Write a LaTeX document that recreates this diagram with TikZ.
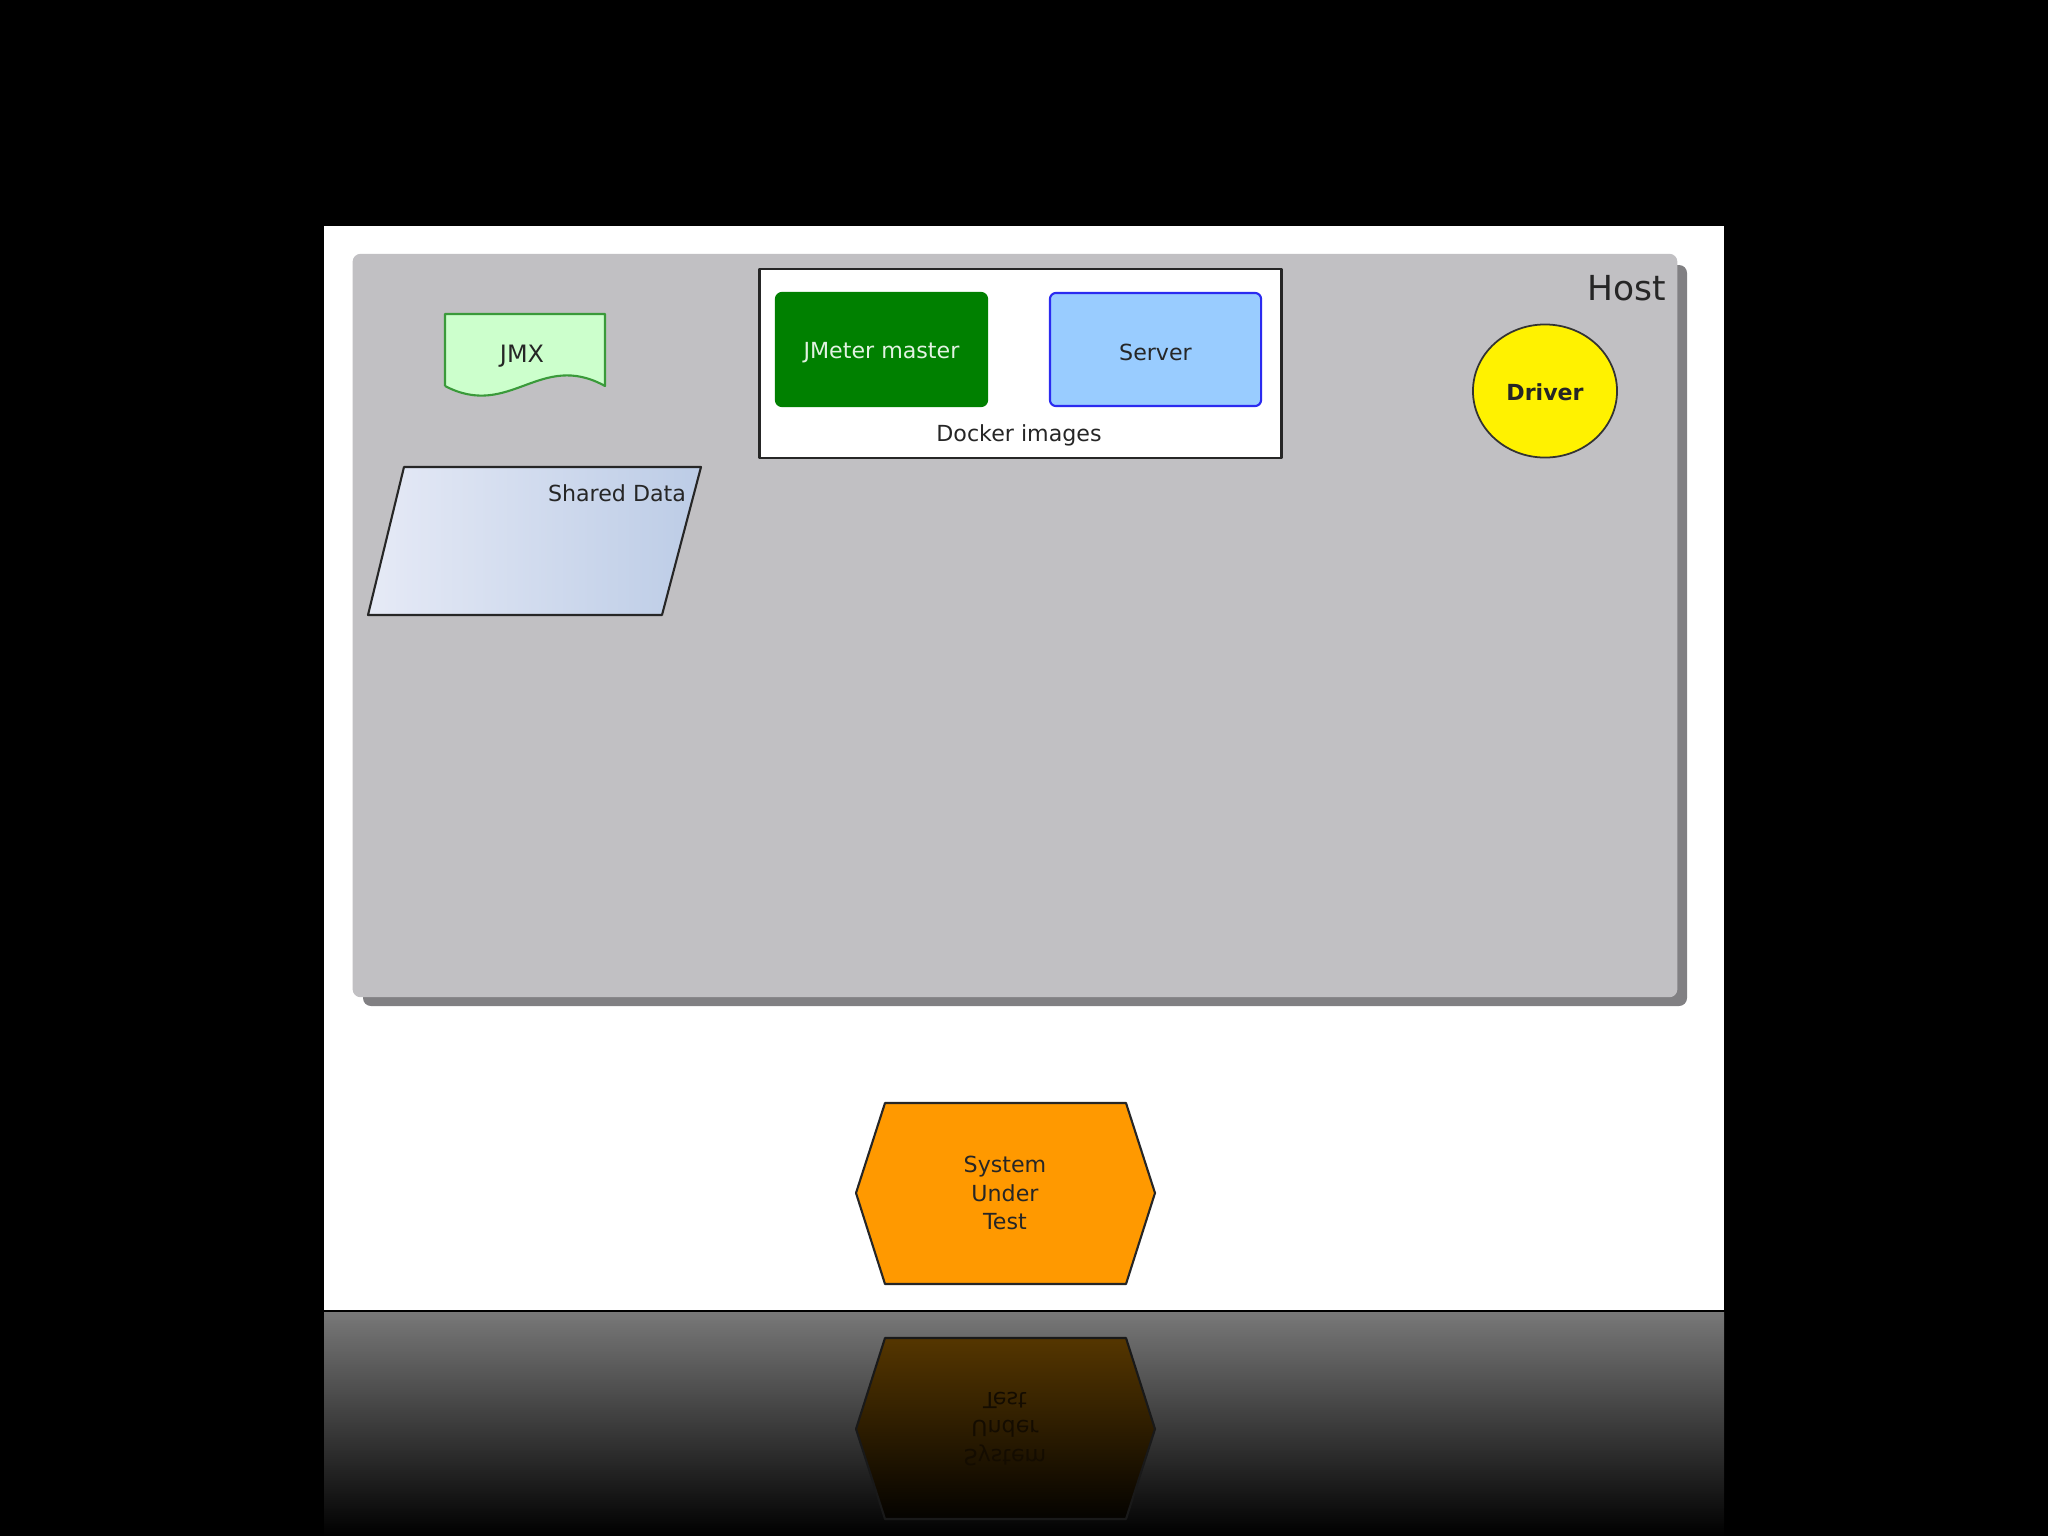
\documentclass[tikz,border=0pt]{standalone}
\usepackage{fontspec}
\setmainfont{DejaVu Sans}
\usepackage{xcolor}
\usepackage{tikz}
\usetikzlibrary{shapes.geometric}

\definecolor{hostgray}{HTML}{C1C0C3}
\definecolor{hostshadow}{HTML}{818083}
\definecolor{mastergreen}{HTML}{008000}
\definecolor{mastertext}{HTML}{E2F2E2}
\definecolor{serverblue}{HTML}{99CCFF}
\definecolor{serverline}{HTML}{2B2BF0}
\definecolor{jmxfill}{HTML}{CCFFCC}
\definecolor{jmxline}{HTML}{3A9A3A}
\definecolor{sutorange}{HTML}{FF9900}
\definecolor{sutmirror}{HTML}{553600}
\definecolor{sutmirrormid}{HTML}{332000}
\definecolor{sutmirrortext}{HTML}{140C00}
\definecolor{datalight}{HTML}{E6EAF6}
\definecolor{datadark}{HTML}{BCCCE6}

\begin{document}
\begin{tikzpicture}[x=0.01cm, y=-0.01cm, line join=round]
    \tikzstyle{smalltext} = [font=\fontsize{6.3}{8}\selectfont, text=black!85]
    \tikzstyle{host} = [rectangle, rounded corners=0.08cm, minimum width=13.24cm, minimum height=7.43cm, inner sep=0, fill=hostgray]
    \tikzstyle{frame} = [rectangle, minimum width=5.21cm, minimum height=1.89cm, inner sep=0, draw=black!85, fill=white, line width=0.8pt]
    \tikzstyle{dockerimage} = [rectangle, rounded corners=0.06cm, minimum width=2.11cm, minimum height=1.13cm, text height=6.2pt, line width=0.6pt, smalltext]
    \tikzstyle{driver} = [ellipse, minimum width=1.44cm, minimum height=1.33cm, inner sep=0, text height=5.6pt, draw=black!80, fill=yellow, line width=0.5pt, smalltext, font=\fontsize{6.3}{8}\selectfont\bfseries]
    \tikzstyle{sut} = [draw=black!85, fill=sutorange, line width=0.6pt]

    % Slide and floor
    \path[use as bounding box, fill=black] (0,0) rectangle (2048,1536);
    \fill[white] (324,226) rectangle (1724,1311);
    \shade[top color=black!53, middle color=black!85, bottom color=black] (324,1312) rectangle (1724,1536);
    \draw[line width=0.8pt] (324,1311) -- (1724,1311);

    % Host
    \fill[hostshadow, rounded corners=0.08cm] (363,265) rectangle (1687,1006);
    \node [host] (host) at (1015,625.5) {};
    \node [font=\fontsize{9.8}{12}\selectfont, text=black!85] (host_label) at (1627,288) {Host};

    % Docker images
    \node [frame] (docker) at (1020.5,363.5) {};
    \node [dockerimage, fill=mastergreen, draw=mastergreen, text=mastertext] (jmeter_master) at (881.5,349.5) {JMeter master};
    \node [dockerimage, fill=serverblue, draw=serverline] (server) at (1155.5,349.5) {Server};
    \node [smalltext] (docker_label) at (1019,435) {Docker images};

    % JMX file
    \draw [jmxline, fill=jmxfill, line width=0.6pt] (445,386) -- (445,314) -- (605,314) -- (605,386)
        .. controls (540,350) and (510,420) .. (445,386);
    \node [smalltext, font=\fontsize{6.8}{8}\selectfont] (jmx) at (522,356) {JMX};

    % Shared data
    \draw [black!85, line width=0.6pt, left color=datalight, right color=datadark]
        (368,615) -- (404,467) -- (701,467) -- (662,615) -- cycle;
    \node [smalltext] (shared_data) at (617,493) {Shared Data};

    % Driver
    \node [driver] (driver) at (1545,391) {Driver};

    % System under test
    \draw [sut] (856,1193) -- (885,1103) -- (1126,1103) -- (1155,1193) -- (1126,1284) -- (885,1284) -- cycle;
    \node [smalltext, align=center] (sut) at (1005,1193) {System\\Under\\Test};

    % Reflection
    \draw [black!90, top color=sutmirror, middle color=sutmirrormid, bottom color=black!95!sutmirror, line width=0.6pt]
        (856,1429) -- (885,1338) -- (1126,1338) -- (1155,1429) -- (1126,1519) -- (885,1519) -- cycle;
    \node [smalltext, align=center, yscale=-1, text=sutmirrortext] (sut_mirror) at (1005,1429) {System\\Under\\Test};
\end{tikzpicture}
\end{document}
